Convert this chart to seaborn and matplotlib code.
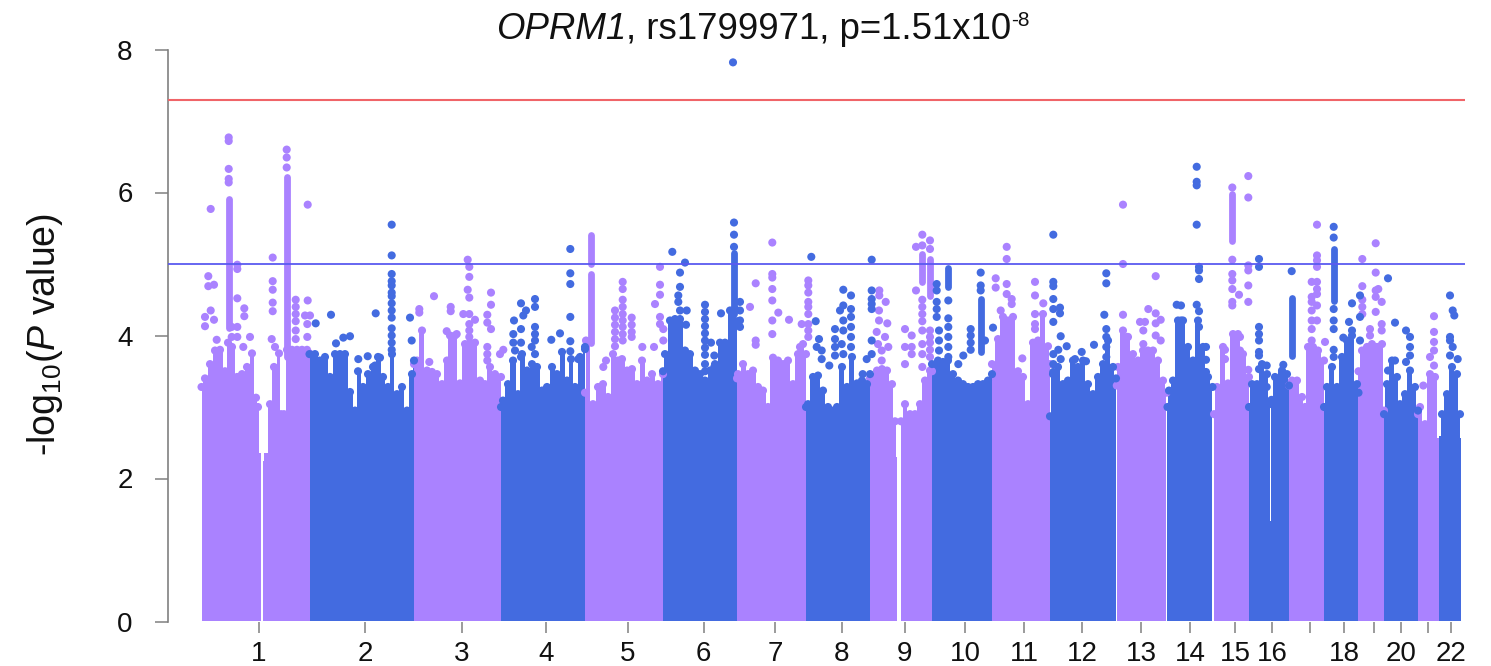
import pandas as pd
import seaborn as sns
import matplotlib.pyplot as plt

# x is position along the concatenated genome, in the plot's own units
x_1p = [201.5, 205, 210, 215, 220, 225, 228, 232, 237, 242, 247, 252, 256, 258, 260.5]
y_1p = [3.28, 3.4, 3.6, 3.79, 3.8, 3.5, 3.9, 3.84, 3.42, 3.46, 3.56, 3.75, 3.13, 3.0, 2.35]
x_1q = [262.5, 266, 270, 274, 279, 281, 284, 287, 292, 297, 302, 307, 309.5]
y_1q = [2.25, 2.35, 3.04, 3.56, 3.75, 2.9, 2.9, 3.8, 3.8, 3.8, 3.8, 3.8, 3.75]
x_2 = [309.5, 315, 320, 325, 330, 335, 340, 345, 350, 355, 358, 363, 368, 373, 378, 383, 388, 392, 397, 402, 407, 412, 414]
y_2 = [3.74, 3.74, 3.65, 3.7, 3.42, 3.74, 3.74, 3.74, 3.21, 2.95, 3.5, 3.28, 3.46, 3.56, 3.7, 3.42, 3.28, 3.74, 3.18, 3.28, 2.95, 3.46, 3.65]
x_3 = [414, 417, 422, 427, 432, 437, 442, 447, 450, 455, 460, 465, 470, 475, 480, 485, 490, 495, 501]
y_3 = [3.6, 3.65, 4.07, 3.51, 3.49, 3.46, 3.32, 3.65, 4.0, 4.0, 3.33, 3.88, 3.9, 3.9, 3.37, 3.32, 3.56, 3.46, 3.42]
x_4 = [501, 503, 508, 513, 518, 522, 527, 532, 537, 542, 547, 552, 557, 562, 567, 571, 575, 580, 585]
y_4 = [3.0, 3.09, 3.32, 3.65, 3.18, 3.74, 3.51, 3.6, 3.56, 3.23, 3.28, 3.56, 3.46, 3.77, 3.37, 3.67, 3.28, 3.7, 3.84]
x_5 = [585, 586, 593, 598, 603, 608, 613, 618, 622, 627, 632, 637, 642, 647, 652, 658, 663]
y_5 = [3.2, 3.93, 3.04, 3.28, 3.32, 3.14, 3.74, 3.65, 3.67, 3.51, 3.53, 3.32, 3.65, 3.37, 3.46, 3.32, 3.46]
x_6 = [663, 665, 670, 675, 680, 685, 690, 695, 700, 705, 710, 715, 720, 725, 730, 735, 737]
y_6 = [3.5, 3.74, 4.21, 4.23, 4.23, 3.79, 3.74, 3.51, 3.46, 3.37, 3.51, 3.6, 3.9, 3.9, 4.35, 4.37, 4.2]
x_7 = [737, 738, 743, 748, 753, 758, 763, 768, 773, 778, 783, 788, 793, 798, 803, 806]
y_7 = [3.4, 3.46, 3.6, 3.46, 3.51, 3.28, 3.23, 3.0, 3.69, 3.65, 3.6, 3.65, 3.32, 3.74, 3.88, 3.74]
x_8 = [806, 808, 813, 818, 823, 828, 832, 837, 842, 847, 852, 857, 862, 867, 870]
y_8 = [3.0, 3.04, 3.42, 3.44, 3.23, 3.0, 2.95, 3.0, 3.56, 3.28, 3.7, 3.33, 3.37, 3.32, 3.46]
x_9p = [870, 872, 877, 882, 887, 892, 895, 897]
y_9p = [3.4, 3.42, 3.51, 3.53, 3.51, 3.32, 2.8, 2.3]
x_9q = [901, 905, 910, 915, 920, 925, 930, 932]
y_9q = [2.8, 3.04, 2.9, 2.9, 3.04, 3.37, 3.51, 3.5]
x_10 = [932, 938, 943, 948, 953, 958, 963, 968, 973, 978, 983, 988, 992]
y_10 = [3.6, 3.65, 3.63, 3.65, 3.46, 3.37, 3.32, 3.28, 3.28, 3.32, 3.32, 3.37, 3.46]
x_11 = [992, 998, 1003, 1008, 1013, 1018, 1023, 1028, 1033, 1038, 1043, 1048, 1050]
y_11 = [3.6, 3.95, 4.26, 4.21, 4.26, 3.5, 3.42, 3.04, 3.9, 3.93, 4.3, 3.85, 3.6]
x_12 = [1050, 1053, 1058, 1063, 1068, 1073, 1078, 1083, 1088, 1093, 1098, 1103, 1108, 1113, 1116]
y_12 = [2.87, 3.46, 3.56, 3.32, 3.37, 3.65, 3.56, 3.65, 3.32, 3.18, 3.42, 3.6, 3.93, 3.56, 3.4]
x_13 = [1116.8, 1118, 1123, 1128, 1133, 1138, 1143, 1148, 1153, 1158, 1163, 1166.5]
y_13 = [3.3, 3.56, 4.07, 3.98, 3.74, 3.65, 3.79, 3.79, 3.79, 3.65, 3.37, 3.2]
x_14 = [1167.5, 1169, 1173, 1178, 1183, 1188, 1193, 1198, 1203, 1208, 1212.5]
y_14 = [3.0, 3.23, 3.37, 4.21, 4.21, 3.84, 3.65, 4.21, 3.84, 3.42, 3.28]
x_15 = [1214, 1217, 1223, 1228, 1233, 1238, 1243, 1249]
y_15 = [2.9, 3.28, 3.84, 3.33, 4.02, 4.02, 3.74, 3.42]
x_16 = [1249, 1252, 1257, 1262, 1267, 1269.5, 1270.2, 1270.8, 1271.5, 1275, 1282, 1287, 1289]
y_16 = [3.0, 3.32, 3.32, 3.6, 3.46, 3.04, 1.4, 1.4, 3.1, 3.42, 3.51, 3.46, 3.3]
x_17 = [1289, 1292, 1297, 1302, 1305, 1308, 1313, 1318, 1324]
y_17 = [3.3, 3.37, 3.37, 3.14, 3.0, 3.84, 3.84, 3.79, 3.65]
x_18 = [1324, 1327, 1332, 1337, 1342, 1347, 1352, 1357, 1358.5]
y_18 = [3.0, 3.28, 3.56, 3.28, 3.7, 3.93, 4.0, 3.32, 3.2]
x_19 = [1358.5, 1362, 1367, 1372, 1377, 1382, 1384]
y_19 = [3.5, 3.79, 3.84, 3.88, 3.84, 3.88, 2.95]
x_20 = [1384, 1387, 1392, 1397, 1400, 1405, 1410, 1415, 1418]
y_20 = [2.9, 3.32, 3.65, 3.42, 3.04, 3.18, 3.51, 3.28, 2.95]
x_21 = [1418, 1420, 1425, 1430, 1435, 1439]
y_21 = [2.9, 3.0, 2.76, 3.46, 3.42, 2.57]
x_22 = [1439.5, 1442, 1447, 1452, 1457, 1460, 1461]
y_22 = [2.6, 2.9, 3.18, 3.56, 3.46, 2.9, 2.57]

purple_sky = [(x_1p, y_1p), (x_1q, y_1q), (x_3, y_3), (x_5, y_5), (x_7, y_7), (x_9p, y_9p), (x_9q, y_9q),
              (x_11, y_11), (x_13, y_13), (x_15, y_15), (x_17, y_17), (x_19, y_19), (x_21, y_21)]
blue_sky = [(x_2, y_2), (x_4, y_4), (x_6, y_6), (x_8, y_8), (x_10, y_10), (x_12, y_12), (x_14, y_14),
            (x_16, y_16), (x_18, y_18), (x_20, y_20), (x_22, y_22)]

# points above the solid mass: position, then the values stacked there
purple_hits = [
    (210.7, [5.77, 4.35]), (228.7, [6.77, 6.72, 6.33, 6.19, 6.14]),
    (237.3, [4.99, 4.93, 4.52, 4.12, 3.98]), (208.3, [4.83, 4.69]), (214, [4.71, 4.22]), (205, [4.26, 4.13]),
    (216.7, [3.94]), (244.3, [4.38, 4.27]), (231.7, [4.12, 3.98]), (250, [3.98]), (243.3, [3.84]),
    (272.7, [5.09, 4.76, 4.64, 4.46, 4.34]), (271.7, [3.95]), (275, [3.84]),
    (286.7, [6.6, 6.49, 6.35]),
    (307.7, [5.83, 4.49]), (295.7, [4.5, 4.4, 4.3, 4.2, 4.07, 3.95]), (305, [4.28]), (310, [4.28]), (307.3, [4.16, 3.98]),
    (419.3, [4.37, 4.32]), (434, [4.55]), (450.7, [4.4, 4.34]), (446.7, [4.06]), (456.7, [4.02]), (429.3, [3.63]),
    (467.7, [5.06, 4.64]), (469.3, [4.96, 4.82, 4.53, 4.3, 4.16, 4.07, 3.98]), (463.3, [4.3]), (475, [4.22]),
    (491, [4.6, 4.43, 4.09]), (487.3, [4.29, 4.18, 3.84, 3.74, 3.65]), (500, [3.74]), (503.3, [3.8]),
    (622.7, [4.75, 4.65, 4.5, 4.4, 4.3, 4.21, 4.12, 4.02, 3.93]), (615, [4.35, 4.25, 4.15, 4.05, 3.95, 3.85]),
    (631.7, [4.25, 4.15, 4.05, 3.98]), (642.3, [3.84]), (606, [3.65]), (603.3, [3.56]),
    (660, [4.96, 4.71, 4.57, 4.26, 4.16]), (655, [4.44]), (663.3, [4.09, 3.93]), (654, [3.84]),
    (772.3, [5.3, 4.86, 4.81, 4.65, 4.49, 4.21, 4.02]), (755.7, [4.73, 3.93, 3.87]), (750, [4.4]), (778.3, [4.32]), (789, [4.22]),
    (808.3, [4.77, 4.7, 4.6, 4.47, 4.4, 4.3, 4.16, 4.07, 3.98]), (801.7, [4.16]), (800, [3.84]),
    (879.3, [4.63, 4.56]), (885.7, [4.47]), (879, [4.35, 4.21]), (876.7, [4.05]), (887.3, [4.17]), (885, [3.98]),
    (888.3, [3.84]), (878, [3.88]), (881.7, [3.79, 3.65]),
    (922.3, [5.41, 5.26, 4.5, 4.4, 4.3, 4.2, 4.07, 3.88, 3.74, 3.56]), (916, [5.24, 4.63]),
    (930, [5.33, 5.21, 4.07, 3.98, 3.9, 3.8, 3.7]),
    (905, [4.09, 3.84, 3.6]), (911.7, [4.0, 3.84, 3.74]),
    (1006.7, [5.24, 5.07, 4.72, 4.58]), (995.7, [4.8, 4.67]), (1011.7, [4.51, 4.44]), (1000.7, [4.35]), (1022.3, [3.68]),
    (1035, [4.75, 4.56, 4.3, 4.16, 4.09]), (1043.3, [4.45]),
    (1123, [5.83, 5.0, 4.29]), (1155.7, [4.83, 4.31, 4.17, 4.0]), (1148.3, [4.37]), (1140, [4.19]), (1145, [4.19]),
    (1160.7, [4.22, 3.93]), (1143.3, [4.07, 3.88]), (1127, [3.98, 3.7]),
    (1232.3, [6.07, 5.06, 4.86, 4.77, 4.65, 4.47, 4.42]),
    (1248.3, [6.23, 5.93, 4.98, 4.91, 4.7, 4.47, 3.52]), (1239, [4.57]), (1225, [3.8, 3.67]), (1240, [3.98, 3.79]),
    (1317, [5.55, 5.12, 5.05, 4.96, 4.75, 4.65, 4.58, 4.42, 4.21]), (1311.7, [4.75, 4.54, 4.47, 4.35, 4.21, 4.09, 3.93]), (1325, [3.91]),
    (1362.3, [5.07, 4.69, 4.5, 4.4, 4.3]), (1375.7, [5.29, 4.88, 4.63, 4.54, 4.33]), (1378.3, [4.65]), (1381.7, [4.47, 4.16, 4.07]), (1370, [4.09, 4.0]),
    (1434, [4.27, 4.05, 3.91, 3.79, 3.58]), (1430, [3.7]), (1423.3, [3.3]),
]
blue_hits = [
    (733, [7.82]),
    (315.7, [4.17]), (331, [4.29]), (336, [3.89]), (343.3, [3.97]), (350, [3.99]), (375.7, [4.31]), (410, [4.25]), (411.7, [3.93]),
    (358.3, [3.67]), (367.7, [3.71]), (380, [3.69]), (375, [3.58]),
    (391.7, [5.55, 5.12, 4.86, 4.76, 4.7, 4.6, 4.55, 4.45, 4.35, 4.25, 4.1, 4.0, 3.9, 3.8]),
    (521, [4.45, 4.09, 3.9, 3.7]), (535, [4.51, 4.4, 4.12, 4.02, 3.93, 3.74]), (526, [4.35]), (523.3, [4.28]), (514, [4.21]),
    (513.3, [4.02, 3.9]), (531.7, [3.84]), (515, [3.79]), (551.3, [3.94]), (560, [4.03]),
    (570.3, [5.21, 4.87, 4.72, 4.26, 3.92, 3.78]), (585, [3.81]), (578.3, [3.67]),
    (672.3, [5.17]), (685, [5.02]), (680, [4.88, 4.68, 4.35]), (678.3, [4.56, 4.47]), (686.7, [4.35]), (686, [4.15]),
    (705, [4.43, 4.33, 4.23, 4.13, 4.03, 3.93, 3.83, 3.73, 3.6, 3.5]), (711, [3.9]), (714.3, [3.72, 3.56]), (721, [4.31]),
    (734, [5.58, 5.41, 5.24]), (740, [4.47, 4.35, 4.21, 4.12]),
    (811.3, [5.1]), (815.7, [4.2]), (819, [3.95]), (816.7, [3.84]), (821.7, [3.79, 3.67]),
    (843.3, [4.64, 4.42, 4.21, 4.07, 3.74]), (851, [4.56, 4.37, 4.26, 4.12, 3.98, 3.84]), (840, [4.35]), (835, [4.09, 3.95, 3.84, 3.72]),
    (841.7, [3.88]), (829.3, [3.58]), (862.7, [3.46]),
    (871.7, [5.06, 4.63, 4.51, 4.44, 4.37, 3.93, 3.74]), (866.7, [3.67]),
    (936.7, [4.72, 4.63, 4.47, 4.37, 4.26]), (939, [4.07, 3.93, 3.79]),
    (948.3, [4.49, 4.24, 4.12, 3.98, 3.84, 3.7]),
    (980.7, [4.88, 4.7, 4.63]), (970.7, [4.09, 4.0, 3.9, 3.8]),
    (993, [4.11]), (985, [3.93]), (963.3, [3.72]), (958.3, [3.6]),
    (1053.3, [5.41, 4.75, 4.69, 4.51, 4.37, 4.19, 3.74, 3.6, 3.49]), (1060, [4.39, 4.31]), (1060.7, [3.99, 3.67]), (1058.3, [3.8]), (1066.7, [3.85]),
    (1094, [3.87]), (1081.7, [3.77]), (1075, [3.67]), (1086, [3.64]),
    (1106.3, [4.87, 4.73, 4.09, 3.98, 3.84, 3.7]), (1104.3, [4.29]),
    (1196.7, [6.36, 6.15, 6.1, 5.55, 4.43]), (1199, [4.96, 4.91, 4.79, 4.34, 4.12]), (1176.7, [4.43]), (1181, [4.42, 4.21]), (1206, [3.84, 3.66, 3.49]),
    (1259, [5.07, 4.96, 4.12, 4.02, 3.93, 3.77, 3.72, 3.53]), (1266.7, [3.58, 3.28]),
    (1291.7, [4.9]), (1283.3, [3.59]),
    (1333.7, [5.52, 5.37, 4.37, 4.21, 4.09, 3.8, 3.7]),
    (1352, [4.45, 4.07]), (1349, [4.19]), (1343.3, [3.97]), (1360, [4.56, 4.26, 3.93]),
    (1388, [4.8, 3.51]), (1395, [4.18, 3.65]), (1406, [4.07, 3.63]), (1410, [3.98, 3.84, 3.72]),
    (1450, [4.56, 3.98, 3.93, 3.72]), (1452.7, [4.35, 3.84]), (1454.3, [4.28]), (1457.7, [3.67]),
]

# unbroken runs of points: position, lowest value, highest value
purple_runs = [(228.7, 4.1, 5.91), (286.7, 3.7, 6.22), (590.7, 3.9, 4.86), (590.7, 5.0, 5.4),
               (922.3, 4.75, 5.14), (930, 4.55, 5.07), (1232.3, 5.32, 5.98)]
blue_runs = [(734, 4.3, 5.15), (948.3, 4.68, 4.95), (980.7, 3.77, 4.51), (1291.7, 3.72, 4.53),
             (1333.7, 4.48, 5.21)]

tick_pos = [259, 365, 462, 546, 627.5, 703.5, 775.5, 842, 905, 965, 1024, 1082, 1141, 1190, 1235, 1272, 1310, 1344, 1374, 1401, 1428, 1451]
tick_labels = ["1", "2", "3", "4", "5", "6", "7", "8", "9", "10", "11", "12", "13", "14", "15", "16", "", "18", "", "20", "", "22"]
y_ticks = [0, 2, 4, 6, 8]
genome_wide = 7.3
suggestive = 5

purple = "#AA82FF"
blue = "#436BE0"
ink = "#111111"

sns.set_theme(style="white")
plt.rcParams["font.family"] = ["Liberation Sans", "DejaVu Sans"]
plt.rcParams["mathtext.fontset"] = "custom"
plt.rcParams["mathtext.rm"] = "Liberation Sans"
plt.rcParams["mathtext.it"] = "Liberation Sans:italic"

rows = []
for sky, hits, col in [(purple_sky, purple_hits, "p"), (blue_sky, blue_hits, "b")]:
    for xs, ys in sky:
        # the low ends beside the gaps stay flat, no dot on them
        rows += [(a, b, col) for a, b in zip(xs, ys) if b > 2.7]
    for a, vals in hits:
        rows += [(a, b, col) for b in vals]
df = pd.DataFrame(rows, columns=["pos", "logp", "col"])

fig = plt.figure(figsize=(14.91, 6.66), dpi=100)
ax = fig.add_axes([168 / 1491, 1 - 621.5 / 666, (1465 - 168) / 1491, 572 / 666])

for sky, runs, col in [(purple_sky, purple_runs, purple), (blue_sky, blue_runs, blue)]:
    for xs, ys in sky:
        ax.fill_between(xs, 0, ys, step="mid", color=col, lw=0, zorder=1)
    for a, lo, hi in runs:
        ax.plot([a, a], [lo, hi], color=col, lw=4.9, solid_capstyle="round", zorder=2)

sns.scatterplot(data=df, x="pos", y="logp", hue="col", palette={"p": purple, "b": blue},
                s=34, linewidth=0, legend=False, ax=ax, zorder=2, clip_on=False)

ax.axhline(genome_wide, color="#F06468", lw=1.5, zorder=3)
ax.axhline(suggestive, color="#5A5AF0", lw=1.3, zorder=3)

ax.set_xlim(168, 1465)
ax.set_ylim(0, 8)
ax.set_xticks(tick_pos)
ax.set_xticklabels(tick_labels)
ax.set_yticks(y_ticks)
ax.set_xlabel("")
ax.set_ylabel("")
sns.despine(ax=ax, top=True, right=True, bottom=True)
ax.spines["left"].set_color("#808080")
ax.spines["left"].set_linewidth(1.2)
ax.tick_params(axis="y", length=9.4, width=1.1, color="#808080", pad=16, labelsize=20, labelcolor=ink, left=True)
ax.tick_params(axis="x", length=8, width=1.1, color="#808080", pad=6, labelsize=20, labelcolor=ink, bottom=True)

# title in three pieces, since mathtext keeps the digit of the gene name upright
base_y = 1 - 39 / 666
renderer = fig.canvas.get_renderer()
t1 = fig.text(496 / 1491, base_y, "OPRM1", style="italic", fontsize=26.4, color=ink, va="baseline")
x2 = t1.get_window_extent(renderer).x1 / 1491
t2 = fig.text(x2, base_y, ", rs1799971, p=1.51x10", fontsize=26.4, color=ink, va="baseline")
x3 = t2.get_window_extent(renderer).x1 / 1491
fig.text(x3, 1 - 26 / 666, "-8", fontsize=15, color=ink, va="baseline")

fig.text(45 / 1491, 1 - 335 / 666, r"-log$_{10}$($\mathit{P}$ value)", rotation=90,
         ha="center", va="center", fontsize=27, color=ink)

fig.savefig("out.png", dpi=100)
